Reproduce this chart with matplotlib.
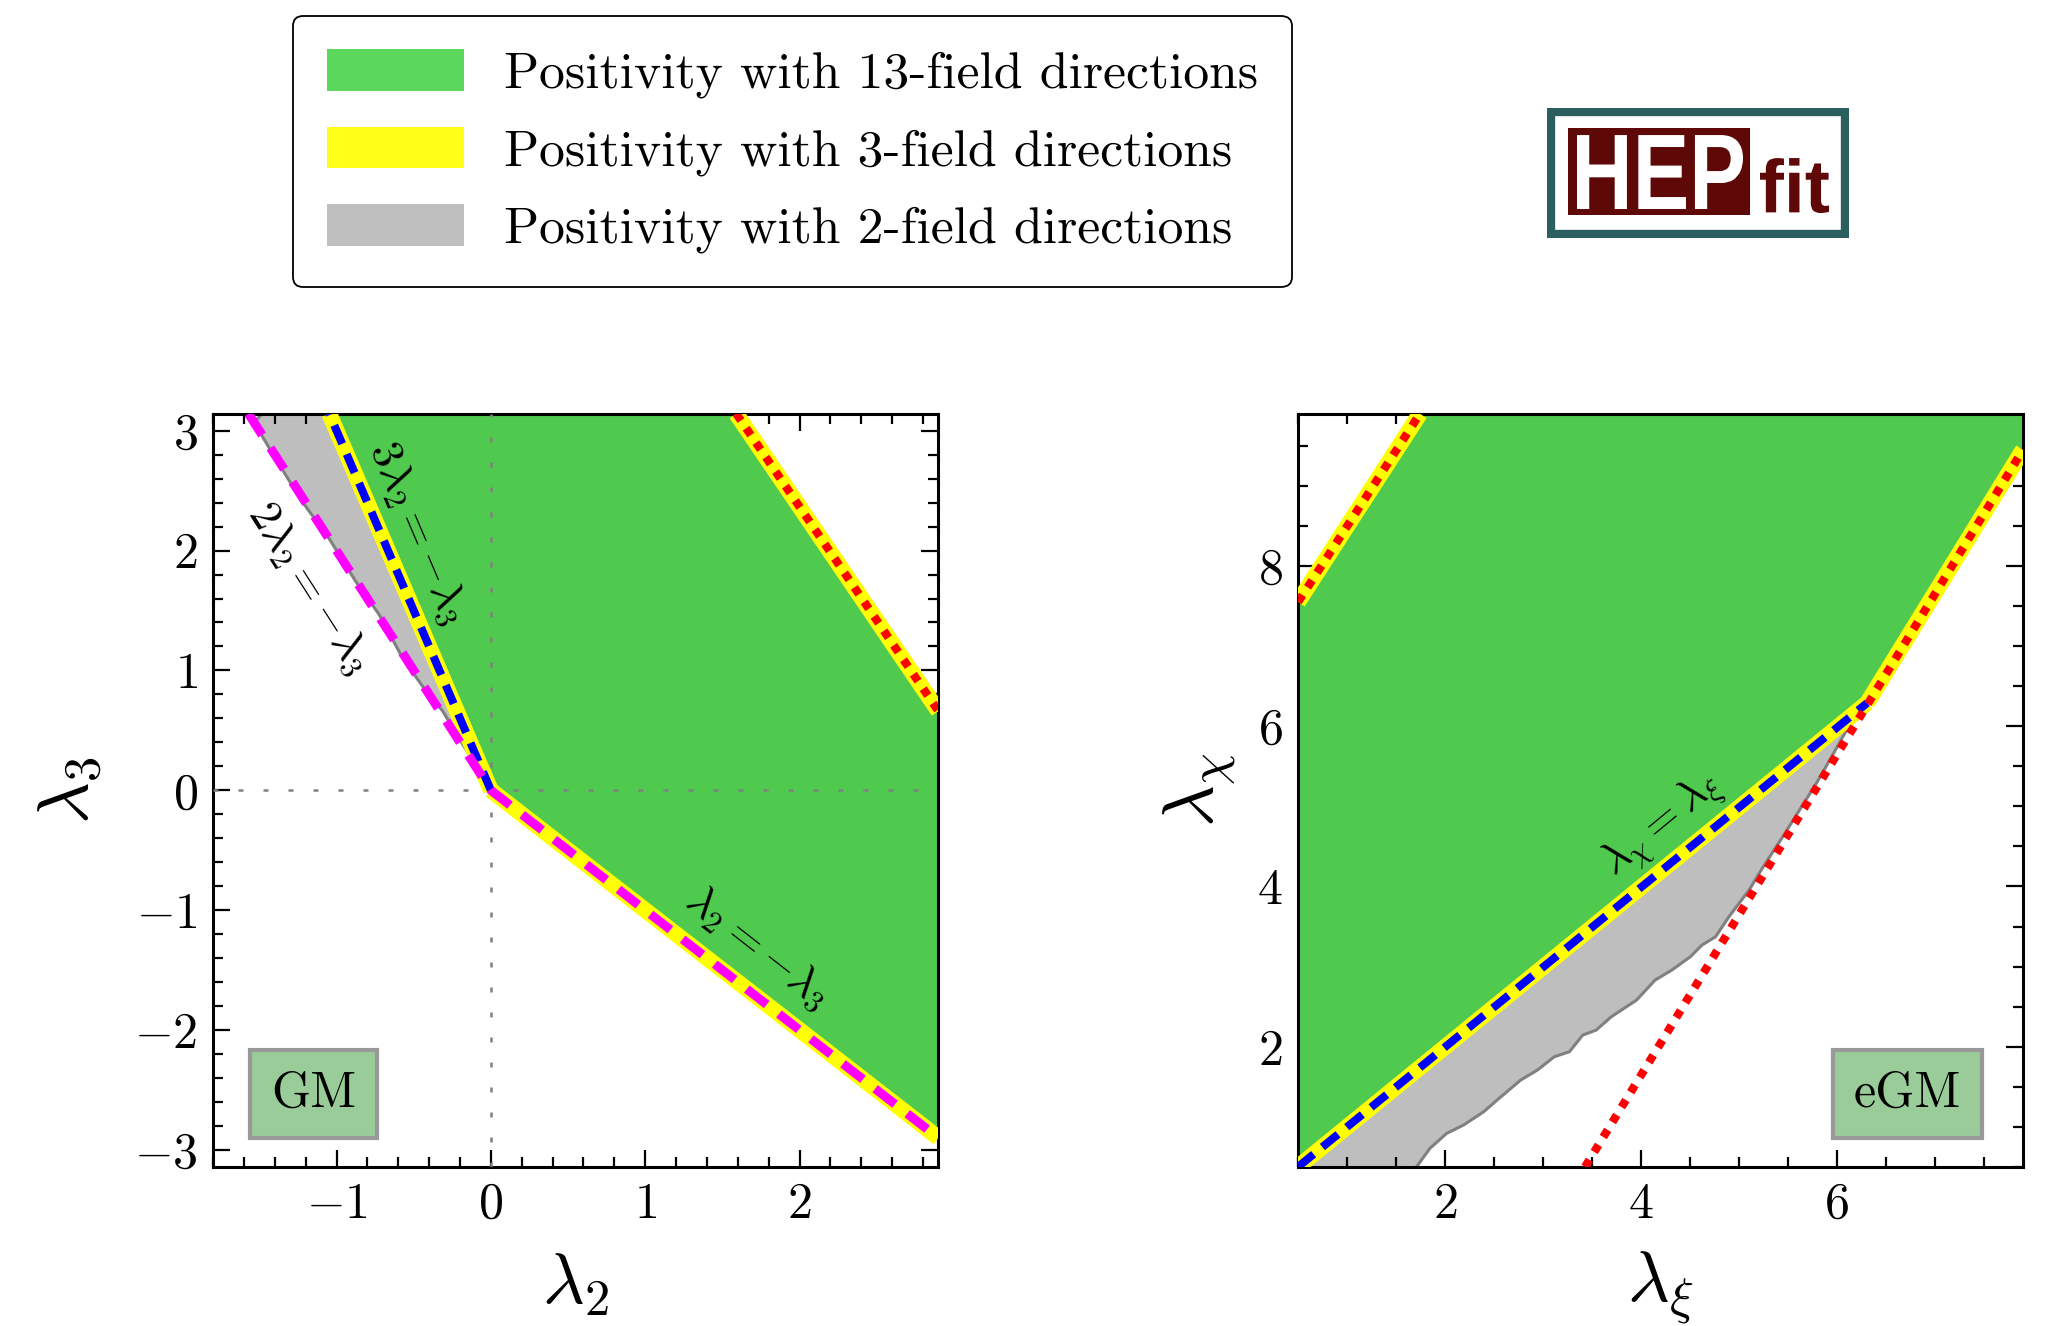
import numpy as np
import matplotlib.pyplot as plt
from matplotlib.patches import Patch, Rectangle, PathPatch
from matplotlib.ticker import MultipleLocator
from matplotlib.textpath import TextPath
from matplotlib.font_manager import FontProperties
from matplotlib.transforms import Affine2D

plt.rcParams['font.family'] = 'serif'
plt.rcParams['font.serif'] = ['cmr10']
plt.rcParams['mathtext.fontset'] = 'cm'
plt.rcParams['axes.formatter.use_mathtext'] = True

PI = np.pi

# ---- GM panel (lambda_2, lambda_3) ----
gm_green_x = [0.0, 2.9, 2.9, 1.59, -1.047]
gm_green_y = [0.0, -2.9, 0.66, PI, PI]
gm_gray_x = [-1.481, -1.535, -1.395, -1.222, -1.049, -0.876, -0.724, -0.573, -0.422, -0.314, -0.184, -0.076, 0.0, -1.047]
gm_gray_y = [PI, 3.07, 2.766, 2.407, 2.102, 1.743, 1.466, 1.106, 0.830, 0.664, 0.387, 0.166, 0.0, PI]
gm_blue_x = [0.0, -1.047]
gm_blue_y = [0.0, PI]
gm_mag_x = [-1.571, 0.0, 2.9]
gm_mag_y = [PI, 0.0, -2.9]
gm_red_x = [1.59, 2.9]
gm_red_y = [PI, 0.66]

# ---- eGM panel (lambda_xi, lambda_chi) ----
egm_green_x = [0.5, 6.31, 7.9, 7.9, 1.744, 0.5]
egm_green_y = [0.5, 6.29, 9.45, 9.9, 9.9, 7.55]
egm_gray_x = [0.5, 1.709, 1.846, 2.017, 2.189, 2.395, 2.532, 2.772, 2.943, 3.115, 3.270, 3.406, 3.543,
              3.698, 3.955, 4.144, 4.315, 4.504, 4.623, 4.761, 4.898, 5.104, 5.206, 5.292, 5.447,
              5.618, 5.790, 5.927, 6.099, 6.236, 6.31]
egm_gray_y = [0.5, 0.5, 0.731, 0.918, 1.022, 1.188, 1.334, 1.583, 1.708, 1.874, 1.937, 2.145, 2.207,
              2.374, 2.581, 2.831, 2.956, 3.122, 3.268, 3.371, 3.621, 3.954, 4.162, 4.328, 4.619,
              4.952, 5.285, 5.576, 5.950, 6.158, 6.29]
egm_blue_x = [0.5, 6.31]
egm_blue_y = [0.5, 6.29]
egm_red1_x = [0.5, 1.744]
egm_red1_y = [7.55, 9.9]
egm_red2_x = [3.43, 7.9]
egm_red2_y = [0.5, 9.45]
egm_yel2_x = [6.31, 7.9]
egm_yel2_y = [6.29, 9.45]

c_green = '#4fca4f'
c_yellow = '#ffff00'
c_gray = '#bebebe'
c_edge = '#808080'
maroon = '#5e0808'

fig = plt.figure(figsize=(20.49, 13.26), dpi=100)
ax1 = fig.add_axes([0.104, 0.120, 0.354, 0.568])
ax2 = fig.add_axes([0.6335, 0.120, 0.3538, 0.568])

yel_kw = dict(color=c_yellow, lw=11.5, solid_capstyle='butt', zorder=3)
blue_kw = dict(color='#0000ff', lw=5.8, dashes=(2.5, 1.4), zorder=5)
mag_kw = dict(color='#ff00ff', lw=6.5, dashes=(2.8, 1.7), zorder=5)
red_kw = dict(color='#ff0000', lw=6, dashes=(1, 1.1), zorder=5)

# GM
ax1.fill(gm_gray_x, gm_gray_y, color=c_gray, lw=0, zorder=1)
ax1.plot(gm_gray_x[:-1], gm_gray_y[:-1], color=c_edge, lw=2.2, zorder=1.5)
ax1.fill(gm_green_x, gm_green_y, color=c_green, lw=0, zorder=2)
ax1.plot(gm_blue_x, gm_blue_y, **yel_kw)
ax1.plot(gm_mag_x[1:], gm_mag_y[1:], **yel_kw)
ax1.plot(gm_red_x, gm_red_y, **yel_kw)
ax1.axvline(0, color='gray', lw=1.8, dashes=(2, 8), zorder=4)
ax1.axhline(0, color='gray', lw=1.8, dashes=(2, 8), zorder=4)
ax1.plot(gm_blue_x, gm_blue_y, **blue_kw)
ax1.plot(gm_mag_x, gm_mag_y, **mag_kw)
ax1.plot(gm_red_x, gm_red_y, **red_kw)
ax1.set_xlim(-1.8, 2.9)
ax1.set_ylim(-PI, PI)
ax1.xaxis.set_major_locator(MultipleLocator(1))
ax1.xaxis.set_minor_locator(MultipleLocator(0.2))
ax1.yaxis.set_major_locator(MultipleLocator(1))
ax1.yaxis.set_minor_locator(MultipleLocator(0.2))
ax1.set_xlabel(r'$\lambda_2$', fontsize=52, labelpad=17)
ax1.set_ylabel(r'$\lambda_3$', fontsize=52, labelpad=22)
ax1.text(-0.475, 2.15, r'$3\lambda_2 = -\lambda_3$', rotation=-66.9, rotation_mode='anchor',
         ha='center', va='center', fontsize=32, zorder=6)
ax1.text(-1.178, 1.69, r'$2\lambda_2 = -\lambda_3$', rotation=-57.4, rotation_mode='anchor',
         ha='center', va='center', fontsize=32, zorder=6)
ax1.text(1.73, -1.31, r'$\lambda_2 = -\lambda_3$', rotation=-38.0, rotation_mode='anchor',
         ha='center', va='center', fontsize=32, zorder=6)
ax1.text(0.139, 0.097, 'GM', transform=ax1.transAxes, ha='center', va='center', fontsize=36, zorder=7,
         bbox=dict(boxstyle='square,pad=0.42', fc='#99cc99', ec='#999999', lw=3))

# eGM
ax2.fill(egm_gray_x, egm_gray_y, color=c_gray, lw=0, zorder=1)
ax2.plot(egm_gray_x[1:], egm_gray_y[1:], color=c_edge, lw=2.2, zorder=1.5)
ax2.fill(egm_green_x, egm_green_y, color=c_green, lw=0, zorder=2)
ax2.plot(egm_blue_x, egm_blue_y, **yel_kw)
ax2.plot(egm_red1_x, egm_red1_y, **yel_kw)
ax2.plot(egm_yel2_x, egm_yel2_y, **yel_kw)
ax2.plot(egm_blue_x, egm_blue_y, **blue_kw)
ax2.plot(egm_red1_x, egm_red1_y, **red_kw)
ax2.plot(egm_red2_x, egm_red2_y, **red_kw)
ax2.set_xlim(0.5, 7.9)
ax2.set_ylim(0.5, 9.9)
ax2.xaxis.set_major_locator(MultipleLocator(2))
ax2.xaxis.set_minor_locator(MultipleLocator(0.5))
ax2.yaxis.set_major_locator(MultipleLocator(2))
ax2.yaxis.set_minor_locator(MultipleLocator(0.5))
ax2.set_xlabel(r'$\lambda_\xi$', fontsize=52, labelpad=16)
ax2.set_ylabel(r'$\lambda_\chi$', fontsize=52, labelpad=14)
ax2.text(4.21, 4.77, r'$\lambda_\chi = \lambda_\xi$', rotation=39.5, rotation_mode='anchor',
         ha='center', va='center', fontsize=32, zorder=6)
ax2.text(0.841, 0.097, 'eGM', transform=ax2.transAxes, ha='center', va='center', fontsize=36, zorder=7,
         bbox=dict(boxstyle='square,pad=0.42', fc='#99cc99', ec='#999999', lw=3))

for ax in (ax1, ax2):
    ax.tick_params(which='both', direction='in', top=True, right=True, width=1.6, labelsize=36, pad=11)
    ax.tick_params(which='major', length=12)
    ax.tick_params(which='minor', length=7)
    for s in ax.spines.values():
        s.set_linewidth(2.2)

# legend
handles = [Patch(facecolor='#5bd85b', edgecolor='none'),
           Patch(facecolor='#ffff1a', edgecolor='none'),
           Patch(facecolor='#bfbfbf', edgecolor='none')]
labels = ['Positivity with 13-field directions',
          'Positivity with 3-field directions',
          'Positivity with 2-field directions']
leg = fig.legend(handles, labels, loc='upper left', bbox_to_anchor=(0.143, 0.988), borderaxespad=0,
                 fontsize=37.2, handlelength=2.65, handleheight=0.85, handletextpad=0.78,
                 labelspacing=0.55, borderpad=0.65, fancybox=True, framealpha=1, edgecolor='black')
leg.get_frame().set_linewidth(1.3)

# HEPfit logo, drawn in a pixel-coordinate overlay axes
logo = fig.add_axes([0.7550, 0.8205, 0.1474, 0.0980])
logo.set_xlim(0, 302)
logo.set_ylim(0, 130)
logo.axis('off')
logo.add_patch(Rectangle((4, 4), 294, 122, fc='white', ec='#2b5e5e', lw=6))
logo.add_patch(Rectangle((21, 23), 182, 87, fc=maroon, ec='none'))
fp = FontProperties(family='Liberation Sans', weight='bold')
for txt, box, col in [('HEP', (30, 29, 196, 103), 'white'), ('fit', (213, 25, 282, 80), maroon)]:
    tp = TextPath((0, 0), txt, size=1, prop=fp)
    ext = tp.get_extents()
    sx = (box[2] - box[0]) / ext.width
    sy = (box[3] - box[1]) / ext.height
    tr = Affine2D().translate(-ext.x0, -ext.y0).scale(sx, sy).translate(box[0], box[1])
    logo.add_patch(PathPatch(tr.transform_path(tp), fc=col, ec='none'))

fig.savefig('out.png', dpi=100)
